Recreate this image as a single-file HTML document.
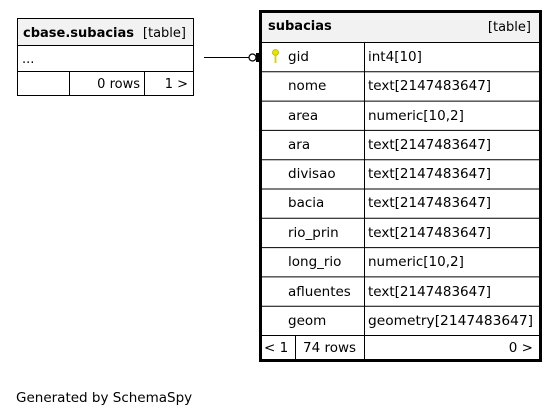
<!DOCTYPE html>
<html><head><meta charset="utf-8"><style>
html,body{margin:0;padding:0;background:#fff;}
svg{display:block;font-family:"DejaVu Sans","Liberation Sans",sans-serif;font-size:13px;}
</style></head><body>
<svg width="557" height="417" viewBox="0 0 557 417" xmlns="http://www.w3.org/2000/svg">
<rect width="557" height="417" fill="#fff"/>
<!-- left table -->
<rect x="17.5" y="18.5" width="176" height="27" fill="#f2f2f2" stroke="#000"/>
<rect x="17.5" y="45.5" width="176" height="26" fill="#fff" stroke="#000"/>
<rect x="17.5" y="71.5" width="176" height="24" fill="#fff" stroke="#000"/>
<line x1="69.5" y1="71.5" x2="69.5" y2="95.5" stroke="#000"/>
<line x1="144.5" y1="71.5" x2="144.5" y2="95.5" stroke="#000"/>
<text x="23" y="37" font-weight="bold">cbase.subacias</text>
<text x="186" y="37" text-anchor="end">[table]</text>
<text x="22" y="63">...</text>
<text x="140" y="88" text-anchor="end">0 rows</text>
<text x="188" y="88" text-anchor="end">1 &gt;</text>
<!-- connector -->
<line x1="204" y1="57.5" x2="249" y2="57.5" stroke="#000"/>
<circle cx="252.5" cy="57.5" r="3.5" fill="#fff" stroke="#000" stroke-width="1.2"/>
<rect x="256" y="53" width="3" height="9" fill="#000"/>
<!-- right table -->
<rect x="261" y="12" width="279" height="30" fill="#f2f2f2"/>
<text x="268" y="30" font-weight="bold">subacias</text>
<text x="531" y="31" text-anchor="end">[table]</text>
<g stroke="#000">
<line x1="261" y1="42.5" x2="540" y2="42.5"/>
</g>
<g font-size="13.5">
<g id="rows"></g>
</g>
<g stroke="#000" fill="none">
<line x1="364.5" y1="42" x2="364.5" y2="360"/>
<line x1="295.5" y1="335" x2="295.5" y2="360"/>
<line x1="261" y1="71.8" x2="540" y2="71.8"/>
<line x1="261" y1="101.1" x2="540" y2="101.1"/>
<line x1="261" y1="130.4" x2="540" y2="130.4"/>
<line x1="261" y1="159.7" x2="540" y2="159.7"/>
<line x1="261" y1="189" x2="540" y2="189"/>
<line x1="261" y1="218.3" x2="540" y2="218.3"/>
<line x1="261" y1="247.6" x2="540" y2="247.6"/>
<line x1="261" y1="276.9" x2="540" y2="276.9"/>
<line x1="261" y1="306.2" x2="540" y2="306.2"/>
<line x1="261" y1="335.5" x2="540" y2="335.5"/>
<rect x="260.5" y="11.5" width="280" height="349" stroke-width="3"/>
</g>
<!-- key icon -->
<circle cx="275.5" cy="52.5" r="3" fill="#e6e600" stroke="#b3b300" stroke-width="0.8"/>
<rect x="274.6" y="54" width="1.8" height="9" fill="#d4d400"/>
<g font-size="13.5">
<text x="288" y="61">gid</text><text x="368" y="61">int4[10]</text>
<text x="288" y="90">nome</text><text x="368" y="90">text[2147483647]</text>
<text x="288" y="120">area</text><text x="368" y="120">numeric[10,2]</text>
<text x="288" y="149">ara</text><text x="368" y="149">text[2147483647]</text>
<text x="288" y="178">divisao</text><text x="368" y="178">text[2147483647]</text>
<text x="288" y="207">bacia</text><text x="368" y="207">text[2147483647]</text>
<text x="288" y="237">rio_prin</text><text x="368" y="237">text[2147483647]</text>
<text x="288" y="266">long_rio</text><text x="368" y="266">numeric[10,2]</text>
<text x="288" y="296">afluentes</text><text x="368" y="296">text[2147483647]</text>
<text x="288" y="325">geom</text><text x="368" y="325" textLength="165" lengthAdjust="spacingAndGlyphs">geometry[2147483647]</text>
<text x="264" y="352">&lt; 1</text>
<text x="303" y="352">74 rows</text>
<text x="533" y="352" text-anchor="end">0 &gt;</text>
</g>
<text x="16" y="402" font-size="13.5">Generated by SchemaSpy</text>
</svg>
</body></html>
